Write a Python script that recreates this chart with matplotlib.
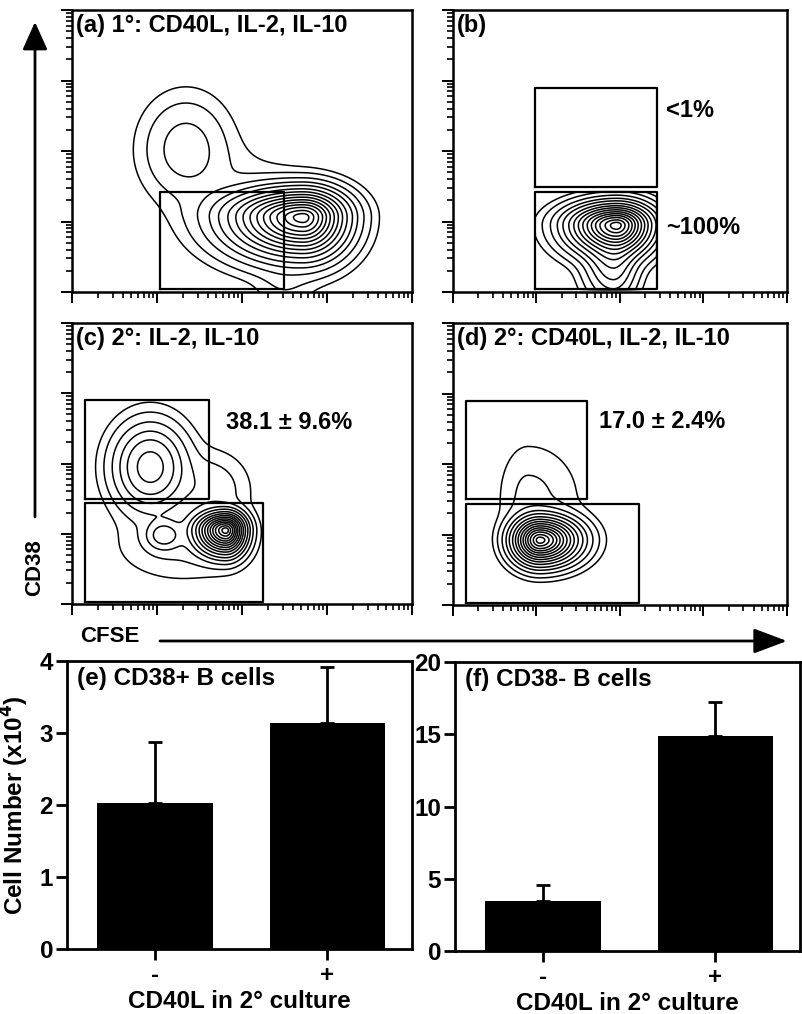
import numpy as np
import matplotlib
matplotlib.use('Agg')
import matplotlib.pyplot as plt
from matplotlib.patches import FancyArrowPatch
from matplotlib.ticker import LogLocator, NullFormatter

plt.rcParams['font.family'] = ['Liberation Sans', 'DejaVu Sans']
plt.rcParams['font.weight'] = 'bold'

W, H = 803, 1014

# ---- flow panels: density blobs in log10 units
# (cx, cy, sx_left, sx_right, sy_down, sy_up, weight)
blobs_a = [(2.72, 1.06, 0.46, 0.27, 0.30, 0.21, 1.00),
           (1.34, 2.03, 0.28, 0.28, 0.38, 0.40, 0.045),
           (1.90, 1.50, 0.45, 0.45, 0.35, 0.35, 0.008),
           (2.50, 0.10, 0.20, 0.20, 0.20, 0.20, 0.010)]
blobs_b = [(1.96, 0.95, 0.30, 0.22, 0.22, 0.16, 1.00),
           (1.92, 0.45, 0.18, 0.15, 0.30, 0.20, 0.15)]
blobs_c = [(0.92, 1.95, 0.23, 0.23, 0.33, 0.33, 0.20),
           (1.81, 1.05, 0.18, 0.12, 0.18, 0.135, 1.00),
           (1.08, 0.98, 0.12, 0.12, 0.12, 0.12, 0.08),
           (1.62, 1.62, 0.25, 0.25, 0.30, 0.30, 0.025),
           (1.30, 0.85, 0.45, 0.45, 0.30, 0.30, 0.015)]
blobs_d = [(1.04, 0.92, 0.17, 0.24, 0.18, 0.17, 1.00),
           (0.90, 1.50, 0.20, 0.35, 0.30, 0.45, 0.016)]

# contour levels, as fractions of each panel's peak density
levels_frac = [0.004, 0.012, 0.03, 0.06, 0.1, 0.16, 0.23, 0.31, 0.4, 0.5, 0.6, 0.7, 0.8, 0.9, 0.97]

# gates in log10 units (x0, x1, y0, y1)
gates_a = [(1.03, 2.49, 0.04, 1.42)]
gates_b = [(0.98, 2.44, 1.49, 2.89), (0.98, 2.44, 0.04, 1.42)]
gates_c = [(0.15, 1.61, 1.49, 2.90), (0.15, 2.25, 0.03, 1.44)]
gates_d = [(0.16, 1.60, 1.50, 2.89), (0.16, 2.23, 0.03, 1.43)]

titles = ['(a) 1°: CD40L, IL-2, IL-10', '(b)', '(c) 2°: IL-2, IL-10', '(d) 2°: CD40L, IL-2, IL-10']
gate_labels = [[], [('<1%', 2.55, 2.58), ('~100%', 2.55, 0.92)],
               [('38.1 ± 9.6%', 1.81, 2.58), ], [('17.0 ± 2.4%', 1.75, 2.60)]]

# ---- bar panels
conditions = ['-', '+']
cd38pos = [2.03, 3.14]
cd38pos_err = [0.84, 0.78]
cd38neg = [3.48, 14.9]
cd38neg_err = [1.09, 2.3]


def px_axes(fig, x0, y0, x1, y1):
    return fig.add_axes([x0 / W, 1 - y1 / H, (x1 - x0) / W, (y1 - y0) / H])


def density(blobs, U, V):
    Z = np.zeros_like(U)
    for cx, cy, sxl, sxr, syd, syu, w in blobs:
        sx = np.where(U < cx, sxl, sxr)
        sy = np.where(V < cy, syd, syu)
        Z += w * np.exp(-0.5 * (((U - cx) / sx) ** 2 + ((V - cy) / sy) ** 2))
    return Z


def flowPanel(ax, blobs, gates, title, labels, clip=False):
    u = np.linspace(0, 4, 500)
    U, V = np.meshgrid(u, u)
    Z = density(blobs, U, V)
    peak = Z.max()
    if clip:
        mask = np.zeros_like(Z, dtype=bool)
        for g in gates:
            mask |= (U >= g[0]) & (U <= g[1]) & (V >= g[2]) & (V <= g[3])
        Z = np.where(mask, Z, 0)
    ax.contour(10 ** U, 10 ** V, Z, levels=peak * np.array(levels_frac), colors='black',
               linewidths=1.1)
    for x0, x1, y0, y1 in gates:
        ax.plot(10 ** np.array([x0, x1, x1, x0, x0]), 10 ** np.array([y0, y0, y1, y1, y0]),
                color='black', lw=1.6)
    for txt, x, y in labels:
        ax.text(10 ** x, 10 ** y, txt, fontsize=17, fontweight='bold', va='center', ha='left')
    ax.text(0.012, 0.985, title, transform=ax.transAxes, fontsize=17, fontweight='bold',
            va='top', ha='left')
    ax.set_xscale('log')
    ax.set_yscale('log')
    ax.set_xlim(1, 1e4)
    ax.set_ylim(1, 1e4)
    for axis in (ax.xaxis, ax.yaxis):
        axis.set_major_locator(LogLocator(base=10, numticks=10))
        axis.set_minor_locator(LogLocator(base=10, subs=np.arange(2, 10), numticks=10))
        axis.set_major_formatter(NullFormatter())
        axis.set_minor_formatter(NullFormatter())
    ax.tick_params(which='major', direction='out', length=8, width=1.4)
    ax.tick_params(which='minor', direction='out', length=4, width=1.2)
    for s in ax.spines.values():
        s.set_linewidth(1.8)


def barPanel(ax, vals, errs, ymax, step, title):
    x = np.arange(len(conditions))
    ax.bar(x, vals, 0.67, color='black')
    ax.errorbar(x, vals, yerr=[np.zeros(len(errs)), errs], fmt='none', ecolor='black',
                elinewidth=2, capsize=5, capthick=2)
    ax.set_xlim(-0.51, 1.49)
    ax.set_ylim(0, ymax)
    ax.set_yticks(np.arange(0, ymax + 0.1, step))
    ax.set_xticks(x)
    ax.set_xticklabels(conditions, fontsize=17.5, fontweight='bold')
    ax.tick_params(axis='y', labelsize=17.5, direction='out', length=8, width=2, pad=2)
    ax.tick_params(axis='x', direction='out', length=8, width=2, pad=3)
    for s in ax.spines.values():
        s.set_linewidth(2)
    ax.set_xlabel('CD40L in 2° culture', fontsize=17.5, fontweight='bold', labelpad=2)
    ax.text(0.03, 0.94, title, transform=ax.transAxes, fontsize=17.5, fontweight='bold',
            va='center', ha='left')


fig = plt.figure(figsize=(W / 100, H / 100), dpi=100)

axA = px_axes(fig, 72, 10, 412, 292)
axB = px_axes(fig, 453, 10, 787, 292)
axC = px_axes(fig, 72, 323, 412, 604)
axD = px_axes(fig, 453, 323, 787, 605)
flowPanel(axA, blobs_a, gates_a, titles[0], gate_labels[0])
flowPanel(axB, blobs_b, gates_b, titles[1], gate_labels[1], clip=True)
flowPanel(axC, blobs_c, gates_c, titles[2], gate_labels[2])
flowPanel(axD, blobs_d, gates_d, titles[3], gate_labels[3])

axE = px_axes(fig, 67, 661, 412, 949)
axF = px_axes(fig, 455, 662, 800, 951)
barPanel(axE, cd38pos, cd38pos_err, 4, 1, '(e) CD38+ B cells')
barPanel(axF, cd38neg, cd38neg_err, 20, 5, '(f) CD38- B cells')
axE.set_ylabel('Cell Number (x10$^\\mathbf{4}$)', fontsize=17.5, fontweight='bold', labelpad=6)

# axis arrows for the flow panels
fig.add_artist(FancyArrowPatch((35 / W, 1 - 517 / H), (35 / W, 1 - 22 / H),
                               transform=fig.transFigure, color='black', lw=2,
                               arrowstyle='-|>,head_length=1.0,head_width=0.45',
                               mutation_scale=17, shrinkA=0, shrinkB=0))
fig.add_artist(FancyArrowPatch((160 / W, 1 - 641 / H), (787 / W, 1 - 641 / H),
                               transform=fig.transFigure, color='black', lw=2,
                               arrowstyle='-|>,head_length=1.2,head_width=0.45',
                               mutation_scale=17, shrinkA=0, shrinkB=0))
fig.text(35 / W, 1 - 568 / H, 'CD38', rotation=90, fontsize=16, fontweight='bold',
         ha='center', va='center')
fig.text(80 / W, 1 - 637 / H, 'CFSE', fontsize=16, fontweight='bold', ha='left', va='center')

fig.savefig('out.png', dpi=100)
